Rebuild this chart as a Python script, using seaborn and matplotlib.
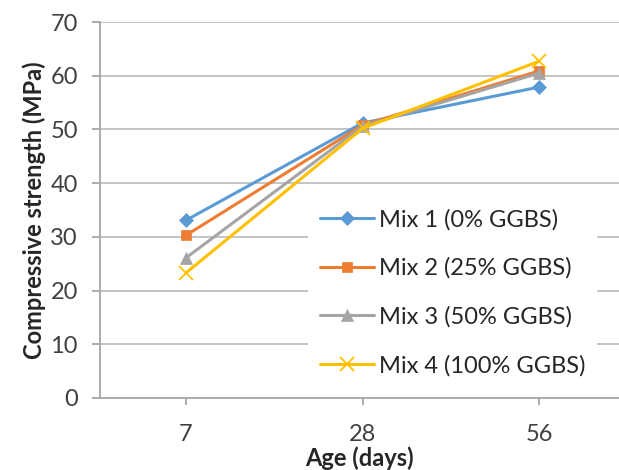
import matplotlib
matplotlib.use("Agg")
import matplotlib.pyplot as plt
import seaborn as sns

# data
ages = ["7", "28", "56"]
mix_names = ["Mix 1 (0% GGBS)", "Mix 2 (25% GGBS)", "Mix 3 (50% GGBS)", "Mix 4 (100% GGBS)"]
mix1 = [33.1, 51.2, 57.9]
mix2 = [30.3, 50.8, 60.9]
mix3 = [26.1, 50.6, 60.5]
mix4 = [23.3, 50.2, 62.7]
series = [mix1, mix2, mix3, mix4]

colors = ["#5B9BD5", "#ED7D31", "#A5A5A5", "#FFC000"]
markers = ["D", "s", "^", "x"]
msizes = [7, 7.5, 8, 10]

sns.set_style("white")
plt.rcParams["font.family"] = ["Lato", "DejaVu Sans"]

fig = plt.figure(figsize=(6.19, 4.70), dpi=100)
ax = fig.add_axes([0.1616, 0.1532, 0.8384, 0.7998])

for name, vals, c, m, ms in zip(mix_names, series, colors, markers, msizes):
    sns.lineplot(x=ages, y=vals, color=c, marker=m, markersize=ms, lw=2.2,
                 markeredgecolor=c, markeredgewidth=1.3 if m == "x" else 0.5,
                 label=name, sort=False, ax=ax)

ax.set_ylim(0, 70)
ax.set_yticks(range(0, 71, 10))
ax.set_xlim(-0.487, 2.453)

ax.yaxis.grid(True, color="#BFBFBF", lw=1.3)
ax.xaxis.grid(False)
ax.set_axisbelow(True)

for s in ["top", "right"]:
    ax.spines[s].set_visible(False)
for s in ["left", "bottom"]:
    ax.spines[s].set_color("#A6A6A6")
    ax.spines[s].set_linewidth(1.3)

ax.tick_params(axis="y", direction="out", length=6, width=1.3, color="#A6A6A6",
               labelsize=17, labelcolor="#404040", pad=10, left=True)
ax.tick_params(axis="x", direction="out", length=5, width=1.3, color="#A6A6A6",
               labelsize=17, labelcolor="#404040", pad=14, bottom=True)

ax.set_ylabel("Compressive strength (MPa)", fontsize=17, fontweight="bold", labelpad=3)
ax.set_xlabel("Age (days)", fontsize=17, fontweight="bold", labelpad=1)

leg = ax.legend(loc="upper left", bbox_to_anchor=(308 / 619, 1 - 197 / 470),
                bbox_transform=fig.transFigure, borderaxespad=0, frameon=True,
                fontsize=17, handlelength=2.3, handletextpad=0.2,
                labelspacing=1.15, borderpad=0.5)
leg.get_frame().set_facecolor("white")
leg.get_frame().set_edgecolor("none")
leg.get_frame().set_alpha(1)
for t in leg.get_texts():
    t.set_color("#262626")

fig.savefig("out.png", dpi=100)
